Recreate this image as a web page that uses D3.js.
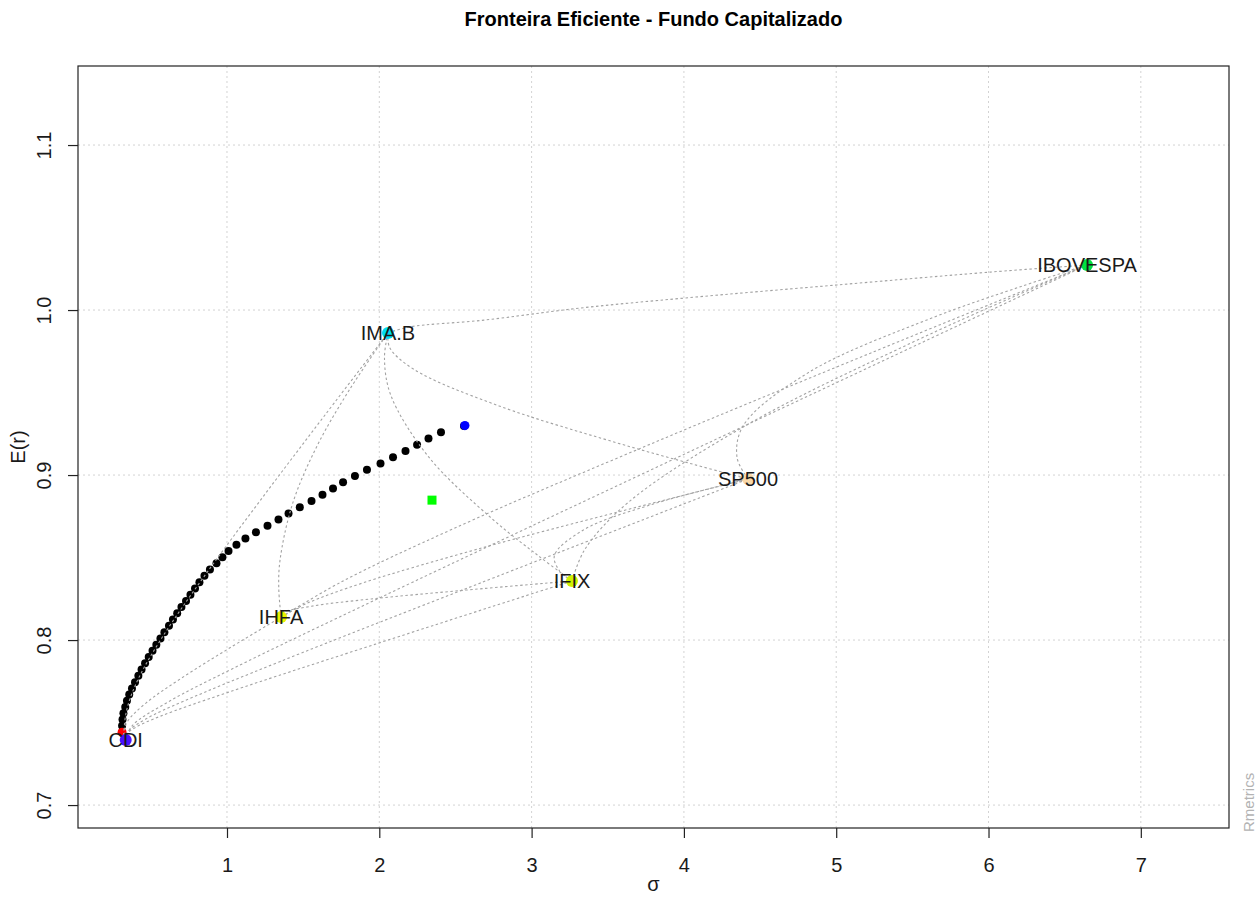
<!DOCTYPE html>
<html>
<head>
<meta charset="utf-8">
<script src="https://cdn.jsdelivr.net/npm/d3@7/dist/d3.min.js"></script>
<style>
body { margin: 0; background: #fff; }
text { font-family: "Liberation Sans", Arial, sans-serif; }
</style>
</head>
<body>
<svg id="chart" width="1258" height="897"></svg>
<script>
var chartTitle = 'Fronteira Eficiente - Fundo Capitalizado';
var xTicks = [1, 2, 3, 4, 5, 6, 7];
var yTicks = [0.7, 0.8, 0.9, 1.0, 1.1];
var yTickLabels = ['0.7', '0.8', '0.9', '1.0', '1.1'];

// single assets (risk = sigma, return = E(r))
var assetNames = ['CDI', 'IHFA', 'IMA.B', 'IFIX', 'SP500', 'IBOVESPA'];
var assetRisk = [0.335, 1.355, 2.057, 3.265, 4.421, 6.647];
var assetReturn = [0.7394, 0.8139, 0.9861, 0.8358, 0.8976, 1.0273];

// efficient frontier points
var frontierRisk = [0.311, 0.311, 0.314, 0.320, 0.332, 0.343, 0.358, 0.376, 0.396, 0.418,
    0.439, 0.462, 0.486, 0.511, 0.536, 0.563, 0.589, 0.619, 0.645, 0.673,
    0.701, 0.731, 0.760, 0.790, 0.819, 0.852, 0.888, 0.931, 0.970, 1.010,
    1.062, 1.121, 1.190, 1.266, 1.338, 1.404, 1.478, 1.555, 1.627, 1.696,
    1.762, 1.840, 1.919, 2.008, 2.090, 2.172, 2.248, 2.323, 2.405, 2.556];
var frontierReturn = [0.7442, 0.7480, 0.7518, 0.7556, 0.7594, 0.7632, 0.7670, 0.7707, 0.7745, 0.7783,
    0.7821, 0.7859, 0.7897, 0.7935, 0.7972, 0.8010, 0.8048, 0.8086, 0.8124, 0.8162,
    0.8200, 0.8237, 0.8275, 0.8313, 0.8351, 0.8389, 0.8427, 0.8465, 0.8502, 0.8540,
    0.8578, 0.8616, 0.8654, 0.8692, 0.8730, 0.8767, 0.8805, 0.8843, 0.8881, 0.8919,
    0.8957, 0.8995, 0.9032, 0.9070, 0.9108, 0.9146, 0.9184, 0.9222, 0.9260, 0.9297];

var minVariancePoint = [0.311, 0.7442];
var tangencyPoint = [2.562, 0.9300];
var equalWeightsPoint = [2.346, 0.8848];

// two assets lines, waypoints
var twoAssetsPaths = [
    ['CDI', 'IHFA', [[0.335, 0.7394], [0.3208, 0.7431], [0.3464, 0.7506], [0.4676, 0.7618], [0.6973, 0.7767], [1.0194, 0.7953], [1.355, 0.8139]]],
    ['CDI', 'IMA.B', [[0.335, 0.7394], [0.326, 0.7468], [0.3454, 0.7591], [0.417, 0.7764], [0.5708, 0.8011], [0.8463, 0.8381], [1.2412, 0.8874], [1.6469, 0.9368], [2.057, 0.9861]]],
    ['CDI', 'IFIX', [[0.335, 0.7394], [0.3348, 0.7423], [0.4005, 0.7471], [0.5645, 0.7539], [1.0064, 0.7683], [1.9634, 0.7972], [3.265, 0.8358]]],
    ['CDI', 'SP500', [[0.335, 0.7394], [0.3466, 0.7441], [0.4662, 0.7521], [0.7201, 0.7631], [1.3464, 0.7869], [2.6559, 0.8343], [4.421, 0.8976]]],
    ['CDI', 'IBOVESPA', [[0.335, 0.7394], [0.377, 0.748], [0.612, 0.7624], [1.0357, 0.7826], [2.0074, 0.8258], [3.9904, 0.9121], [6.647, 1.0273]]],
    ['IHFA', 'IMA.B', [[1.355, 0.8139], [1.34, 0.8311], [1.348, 0.8483], [1.431, 0.8828], [1.589, 0.9172], [1.804, 0.9517], [2.057, 0.9861]]],
    ['IMA.B', 'IFIX', [[2.057, 0.9861], [2.034, 0.9711], [2.075, 0.9485], [2.324, 0.911], [2.742, 0.8734], [3.047, 0.8509], [3.265, 0.8358]]],
    ['IMA.B', 'SP500', [[2.057, 0.9861], [2.068, 0.9773], [2.228, 0.964], [2.786, 0.9419], [3.553, 0.9197], [4.066, 0.9064], [4.421, 0.8976]]],
    ['IMA.B', 'IBOVESPA', [[2.057, 0.9861], [2.195, 0.9897], [2.688, 0.9939], [3.318, 1.0012], [4.008, 1.0073], [5.005, 1.0152], [6.01, 1.023], [6.647, 1.0273]]],
    ['SP500', 'IBOVESPA', [[4.421, 0.8976], [4.349, 0.9106], [4.39, 0.93], [4.825, 0.9625], [5.62, 0.9949], [6.215, 1.0143], [6.647, 1.0273]]],
    ['IFIX', 'IBOVESPA', [[3.265, 0.8358], [3.35, 0.855], [3.638, 0.8837], [4.436, 0.9316], [5.477, 0.9794], [6.168, 1.0082], [6.647, 1.0273]]],
    ['IHFA', 'IFIX', [[1.355, 0.8139], [1.354, 0.8161], [1.5545, 0.8205], [1.946, 0.8249], [2.571, 0.8303], [3.265, 0.8358]]],
    ['IHFA', 'SP500', [[1.355, 0.8139], [1.526, 0.8223], [1.898, 0.8348], [2.672, 0.8558], [3.529, 0.8767], [4.421, 0.8976]]],
    ['IHFA', 'IBOVESPA', [[1.355, 0.8139], [1.75, 0.8352], [2.482, 0.8673], [3.828, 0.9206], [5.228, 0.974], [6.647, 1.0273]]],
    ['IFIX', 'SP500', [[3.265, 0.8358], [3.183, 0.842], [3.15, 0.8513], [3.34, 0.8667], [3.79, 0.8822], [4.421, 0.8976]]]
];

var assetColors = ['#4a10ff', '#e8f000', '#00dcf0', '#d0f000', '#fad8a8', '#00e040'];

var width = 1258, height = 897;
var plotLeft = 78, plotRight = 1229, plotTop = 66, plotBottom = 828;
var fontSize = 20;

var svg = d3.select('#chart');
svg.append('rect').attr('width', width).attr('height', height).attr('fill', '#fff');

var xScale = d3.scaleLinear().domain([0.0217, 7.579]).range([plotLeft, plotRight]);
var yScale = d3.scaleLinear().domain([0.6861, 1.1479]).range([plotBottom, plotTop]);

// grid
var grid = svg.append('g').attr('class', 'grid');
grid.selectAll('.gx').data(xTicks).enter().append('line')
    .attr('x1', function (d) { return xScale(d); })
    .attr('x2', function (d) { return xScale(d); })
    .attr('y1', plotTop).attr('y2', plotBottom)
    .attr('stroke', '#d3d3d3').attr('stroke-dasharray', '2,3');
grid.selectAll('.gy').data(yTicks).enter().append('line')
    .attr('y1', function (d) { return yScale(d); })
    .attr('y2', function (d) { return yScale(d); })
    .attr('x1', plotLeft).attr('x2', plotRight)
    .attr('stroke', '#d3d3d3').attr('stroke-dasharray', '2,3');

// frontier
var frontier = frontierRisk.map(function (r, i) { return { x: r, y: frontierReturn[i] }; });
svg.append('g').selectAll('circle').data(frontier).enter().append('circle')
    .attr('cx', function (d) { return xScale(d.x); })
    .attr('cy', function (d) { return yScale(d.y); })
    .attr('r', 4)
    .attr('fill', '#000');

svg.append('circle')
    .attr('cx', xScale(minVariancePoint[0])).attr('cy', yScale(minVariancePoint[1]))
    .attr('r', 4.5).attr('fill', '#ff0000');
svg.append('circle')
    .attr('cx', xScale(tangencyPoint[0])).attr('cy', yScale(tangencyPoint[1]))
    .attr('r', 4.6).attr('fill', '#0000ff');
svg.append('rect')
    .attr('x', xScale(equalWeightsPoint[0]) - 4.5).attr('y', yScale(equalWeightsPoint[1]) - 4.5)
    .attr('width', 9).attr('height', 9).attr('fill', '#00ff00');

// two assets lines
var line = d3.line()
    .x(function (d) { return xScale(d[0]); })
    .y(function (d) { return yScale(d[1]); })
    .curve(d3.curveCatmullRom.alpha(0.5));
svg.append('g').selectAll('path').data(twoAssetsPaths).enter().append('path')
    .attr('d', function (d) { return line(d[2]); })
    .attr('fill', 'none')
    .attr('stroke', '#a3a3a3')
    .attr('stroke-width', 1.1)
    .attr('stroke-dasharray', '2.5,2.5');

// single assets
var assets = assetNames.map(function (n, i) {
    return { name: n, x: assetRisk[i], y: assetReturn[i], color: assetColors[i] };
});
svg.append('g').selectAll('circle').data(assets).enter().append('circle')
    .attr('cx', function (d) { return xScale(d.x); })
    .attr('cy', function (d) { return yScale(d.y); })
    .attr('r', 6)
    .attr('fill', function (d) { return d.color; });
svg.append('g').selectAll('text').data(assets).enter().append('text')
    .attr('x', function (d) { return xScale(d.x); })
    .attr('y', function (d) { return yScale(d.y); })
    .attr('dy', '0.35em')
    .attr('text-anchor', 'middle')
    .attr('font-size', fontSize)
    .attr('fill', '#1a1a1a')
    .text(function (d) { return d.name; });

// box
svg.append('rect')
    .attr('x', plotLeft).attr('y', plotTop)
    .attr('width', plotRight - plotLeft).attr('height', plotBottom - plotTop)
    .attr('fill', 'none').attr('stroke', '#222').attr('stroke-width', 1.2);

// axes
var xAxis = svg.append('g')
    .attr('transform', 'translate(0,' + plotBottom + ')')
    .call(d3.axisBottom(xScale).tickValues(xTicks).tickSize(10).tickPadding(20).tickFormat(d3.format('d')));
xAxis.select('.domain').remove();
xAxis.selectAll('line').attr('stroke', '#222').attr('stroke-width', 1.2);
xAxis.selectAll('text').attr('font-size', fontSize).attr('fill', '#1a1a1a')
    .style('font-family', '"Liberation Sans", Arial, sans-serif');

var yAxis = svg.append('g')
    .attr('transform', 'translate(' + plotLeft + ',0)')
    .call(d3.axisLeft(yScale).tickValues(yTicks).tickSize(10)
        .tickFormat(function (d, i) { return yTickLabels[i]; }));
yAxis.select('.domain').remove();
yAxis.selectAll('line').attr('stroke', '#222').attr('stroke-width', 1.2);
yAxis.selectAll('text')
    .attr('transform', 'rotate(-90)')
    .attr('x', 0).attr('y', -27).attr('dy', 0)
    .attr('text-anchor', 'middle')
    .attr('font-size', fontSize).attr('fill', '#1a1a1a')
    .style('font-family', '"Liberation Sans", Arial, sans-serif');

// titles
svg.append('text')
    .attr('x', (plotLeft + plotRight) / 2).attr('y', 26)
    .attr('text-anchor', 'middle')
    .attr('font-size', fontSize).attr('font-weight', 'bold')
    .text(chartTitle);
svg.append('text')
    .attr('x', (plotLeft + plotRight) / 2).attr('y', 891)
    .attr('text-anchor', 'middle')
    .attr('font-size', fontSize).attr('fill', '#1a1a1a')
    .text('σ');
svg.append('text')
    .attr('transform', 'translate(25,' + ((plotTop + plotBottom) / 2) + ') rotate(-90)')
    .attr('text-anchor', 'middle')
    .attr('font-size', fontSize).attr('fill', '#1a1a1a')
    .text('E(r)');
svg.append('text')
    .attr('transform', 'translate(1254,832) rotate(-90)')
    .attr('text-anchor', 'start')
    .attr('font-size', 15).attr('fill', '#b3b3b3')
    .text('Rmetrics');
</script>
</body>
</html>
